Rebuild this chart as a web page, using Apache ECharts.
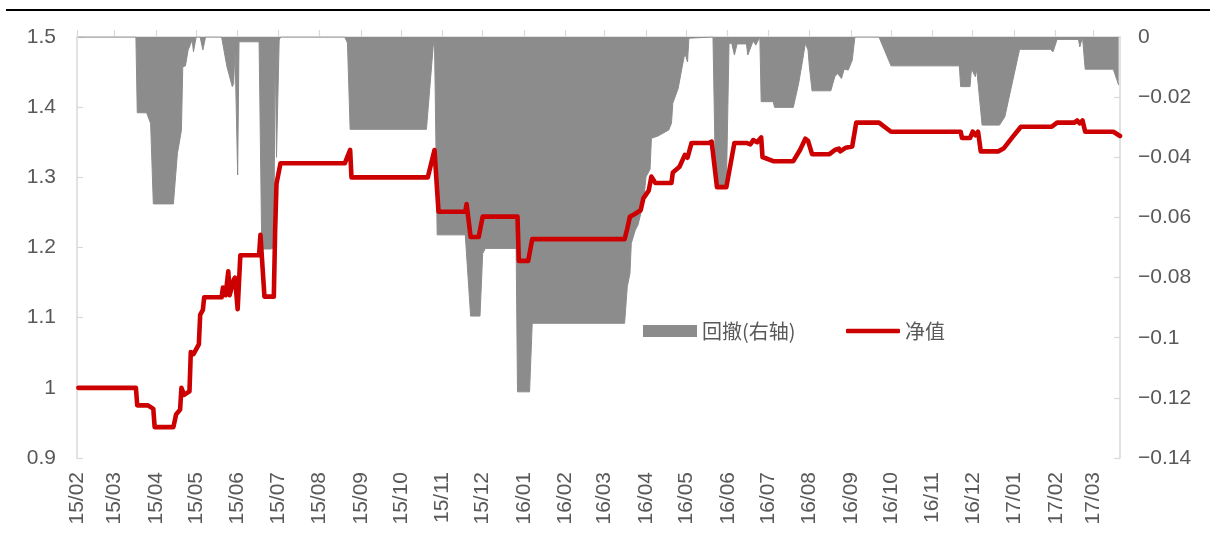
<!DOCTYPE html>
<html>
<head>
<meta charset="utf-8">
<script src="https://cdn.jsdelivr.net/npm/echarts@6/dist/echarts.min.js"></script>
<style>
  html, body { margin: 0; padding: 0; background: #fff; }
  #chart { width: 1210px; height: 536px; }
</style>
</head>
<body>
<div id="chart"></div>
<script>
// Net value (left axis) — dates and values at each turning point
const navDates = [
  '2015-02-02','2015-03-17','2015-03-18','2015-03-26','2015-03-30','2015-03-31','2015-04-14','2015-04-16',
  '2015-04-19','2015-04-20','2015-04-22','2015-04-26','2015-04-27','2015-04-29','2015-05-03','2015-05-04',
  '2015-05-06','2015-05-07','2015-05-20','2015-05-21','2015-05-23','2015-05-25','2015-05-26','2015-05-29',
  '2015-05-30','2015-06-01','2015-06-03','2015-06-17','2015-06-18','2015-06-21','2015-06-28','2015-06-29',
  '2015-06-30','2015-07-03','2015-08-20','2015-08-24','2015-08-25','2015-10-21','2015-10-26','2015-10-29',
  '2015-11-18','2015-11-19','2015-11-22','2015-11-28','2015-12-01','2015-12-27','2015-12-28','2016-01-04',
  '2016-01-07','2016-03-16','2016-03-18','2016-03-20','2016-03-23','2016-03-28','2016-03-30','2016-04-03',
  '2016-04-05','2016-04-08','2016-04-20','2016-04-21','2016-04-26','2016-04-30','2016-05-02','2016-05-05',
  '2016-05-18','2016-05-20','2016-05-24','2016-05-31','2016-06-06','2016-06-15','2016-06-18','2016-06-20',
  '2016-06-23','2016-06-26','2016-06-27','2016-07-05','2016-07-20','2016-07-25','2016-07-29','2016-07-31',
  '2016-08-03','2016-08-16','2016-08-20','2016-08-23','2016-08-24','2016-08-28','2016-09-02','2016-09-05',
  '2016-09-22','2016-10-01','2016-11-22','2016-11-23','2016-11-29','2016-12-01','2016-12-03','2016-12-05',
  '2016-12-07','2016-12-20','2016-12-24','2016-12-31','2017-01-06','2017-01-29','2017-02-02','2017-02-15',
  '2017-02-17','2017-02-19','2017-02-21','2017-02-23','2017-03-16','2017-03-21'
];
const navValues = [
  1.000,1.000,0.975,0.975,0.970,0.944,0.944,0.962,
  0.969,1.000,0.990,0.995,1.051,1.048,1.062,1.104,
  1.111,1.129,1.129,1.143,1.132,1.166,1.132,1.154,
  1.157,1.112,1.189,1.189,1.218,1.130,1.130,1.225,
  1.291,1.320,1.320,1.339,1.300,1.300,1.339,1.251,
  1.251,1.262,1.215,1.215,1.244,1.244,1.181,1.181,
  1.212,1.212,1.227,1.244,1.247,1.253,1.270,1.281,
  1.301,1.292,1.292,1.307,1.315,1.332,1.328,1.349,
  1.349,1.351,1.286,1.286,1.349,1.349,1.347,1.353,
  1.350,1.357,1.329,1.323,1.323,1.339,1.355,1.352,
  1.333,1.333,1.339,1.341,1.337,1.342,1.344,1.378,
  1.378,1.365,1.365,1.356,1.356,1.365,1.360,1.365,
  1.337,1.337,1.341,1.358,1.372,1.372,1.378,1.378,
  1.381,1.377,1.381,1.365,1.365,1.359
];

// Drawdown (right axis)
const ddDates = [
  '2015-02-02','2015-03-17','2015-03-18','2015-03-25','2015-03-28','2015-03-30','2015-04-14','2015-04-15',
  '2015-04-17','2015-04-20','2015-04-21','2015-04-23','2015-04-25','2015-04-28','2015-04-29','2015-05-01',
  '2015-05-04','2015-05-06','2015-05-08','2015-05-20','2015-05-24','2015-05-28','2015-05-29','2015-05-30',
  '2015-06-01','2015-06-02','2015-06-17','2015-06-19','2015-06-26','2015-06-28','2015-06-29','2015-06-30',
  '2015-07-02','2015-07-03','2015-08-20','2015-08-22','2015-08-24','2015-10-20','2015-10-25','2015-10-26',
  '2015-10-28','2015-11-18','2015-11-22','2015-11-29','2015-12-01','2015-12-03','2015-12-26','2015-12-27',
  '2016-01-05','2016-01-07','2016-03-16','2016-03-18','2016-03-20','2016-03-21','2016-03-24','2016-03-26',
  '2016-03-30','2016-04-01','2016-04-04','2016-04-05','2016-04-10','2016-04-18','2016-04-20','2016-04-21',
  '2016-04-25','2016-04-28','2016-04-30','2016-05-02','2016-05-03','2016-05-04','2016-05-21','2016-05-23',
  '2016-05-31','2016-06-02','2016-06-04','2016-06-06','2016-06-08','2016-06-15','2016-06-16','2016-06-20',
  '2016-06-22','2016-06-25','2016-06-26','2016-07-05','2016-07-06','2016-07-20','2016-07-24','2016-07-27',
  '2016-07-29','2016-07-31','2016-08-01','2016-08-03','2016-08-17','2016-08-20','2016-08-22','2016-08-25',
  '2016-08-27','2016-08-30','2016-09-02','2016-09-04','2016-09-22','2016-10-01','2016-11-21','2016-11-22',
  '2016-11-29','2016-11-30','2016-12-03','2016-12-04','2016-12-08','2016-12-21','2016-12-25','2016-12-31',
  '2017-01-05','2017-01-28','2017-01-30','2017-02-02','2017-02-18','2017-02-19','2017-02-21','2017-02-23',
  '2017-03-16','2017-03-20'
];
const ddValues = [
  0,0,-0.0252,-0.0252,-0.0288,-0.0555,-0.0555,-0.0557,
  -0.0387,-0.0310,-0.0099,-0.0096,-0.0043,-0.0010,-0.0049,0,
  0,-0.0043,0,0,-0.0099,-0.0165,-0.0155,-0.0043,
  -0.0459,-0.0016,-0.0016,-0.0705,-0.0705,-0.0700,-0.0020,-0.0400,
  -0.0010,0,0,-0.0020,-0.0307,-0.0307,-0.0033,-0.0009,
  -0.0658,-0.0658,-0.0928,-0.0928,-0.0720,-0.0703,-0.0703,-0.1180,
  -0.1180,-0.0952,-0.0952,-0.0830,-0.0786,-0.0686,-0.0642,-0.0625,
  -0.0553,-0.0465,-0.0440,-0.0337,-0.0329,-0.0309,-0.0287,-0.0220,
  -0.0171,-0.0099,-0.0054,-0.0083,-0.0004,0,0,-0.0498,
  -0.0498,-0.0021,-0.0021,-0.0060,-0.0023,-0.0023,-0.0060,-0.0013,
  -0.0027,0,-0.0215,-0.0215,-0.0234,-0.0234,-0.0154,-0.0076,
  -0.0021,-0.0043,-0.0099,-0.0179,-0.0179,-0.0132,-0.0121,-0.0138,
  -0.0107,-0.0110,-0.0077,0,0,-0.0096,-0.0096,-0.0165,
  -0.0165,-0.0107,-0.0132,-0.0107,-0.0293,-0.0293,-0.0265,-0.0143,
  -0.0041,-0.0041,-0.0049,-0.0008,-0.0008,-0.0033,0,-0.0107,
  -0.0107,-0.0160
];

// Axis settings
const xStart = '2015-02-01';
const xEnd = '2017-03-21';
const leftAxis = { min: 0.9, max: 1.5, step: 0.1 };
const rightAxis = { min: -0.14, max: 0, step: 0.02 };
const seriesNames = ['回撤(右轴)', '净值'];

const DAY = 24 * 3600 * 1000;
const toTime = s => new Date(s + 'T00:00:00').getTime();
const zip = (xs, ys) => xs.map((d, i) => [toTime(d), ys[i]]);

const AXIS_GREY = '#d9d9d9';
const TEXT_GREY = '#595959';
const AREA_GREY = '#8c8c8c';
const NAV_RED = '#cc0000';
const NUM_FONT = "'Liberation Sans', 'Noto Sans CJK SC', sans-serif";
const CJK_FONT = "'Noto Sans CJK SC', sans-serif";

const chart = echarts.init(document.getElementById('chart'), null, { renderer: 'canvas' });

const legendBase = {
  orient: 'horizontal',
  top: 321,
  padding: 0,
  itemWidth: 54,
  itemStyle: { borderWidth: 0 },
  textStyle: { fontSize: 20, color: TEXT_GREY, fontFamily: CJK_FONT },
  selectedMode: false
};

chart.setOption({
  animation: false,
  backgroundColor: '#fff',
  grid: { left: 77, right: 90, top: 37, bottom: 78, containLabel: false },
  graphic: [{
    type: 'line',
    shape: { x1: 6, y1: 10, x2: 1210, y2: 10 },
    style: { stroke: '#000', lineWidth: 2.2 },
    silent: true
  }],
  legend: [
    Object.assign({}, legendBase, {
      left: 643, itemHeight: 12,
      data: [{ name: seriesNames[0], icon: 'rect' }]
    }),
    Object.assign({}, legendBase, {
      left: 846, itemHeight: 4.5,
      data: [{ name: seriesNames[1], icon: 'roundRect' }]
    })
  ],
  xAxis: {
    type: 'time',
    min: toTime(xStart),
    max: toTime(xEnd),
    splitNumber: 26,
    minInterval: 28 * DAY,
    maxInterval: 31 * DAY,
    axisLine: { show: true, lineStyle: { color: AXIS_GREY, width: 1.5 } },
    axisTick: { show: true, inside: true, length: 7, lineStyle: { color: AXIS_GREY, width: 1.2 } },
    axisLabel: {
      rotate: 90,
      interval: 0,
      margin: 14,
      formatter: '{yy}/{MM}',
      fontSize: 21,
      color: TEXT_GREY,
      fontFamily: NUM_FONT,
      showMaxLabel: false,
      hideOverlap: false
    },
    splitLine: { show: false }
  },
  yAxis: [{
    type: 'value',
    position: 'left',
    min: leftAxis.min,
    max: leftAxis.max,
    interval: leftAxis.step,
    axisLine: { show: true, lineStyle: { color: AXIS_GREY, width: 1.5 } },
    axisTick: { show: true, inside: true, length: 6, lineStyle: { color: AXIS_GREY, width: 1.2 } },
    axisLabel: { margin: 21, fontSize: 21, color: TEXT_GREY, fontFamily: NUM_FONT },
    splitLine: { show: false }
  }, {
    type: 'value',
    position: 'right',
    min: rightAxis.min,
    max: rightAxis.max,
    interval: rightAxis.step,
    axisLine: { show: true, lineStyle: { color: AXIS_GREY, width: 1.5 } },
    axisTick: { show: true, inside: true, length: 6, lineStyle: { color: AXIS_GREY, width: 1.2 } },
    axisLabel: {
      margin: 18, fontSize: 21, color: TEXT_GREY, fontFamily: NUM_FONT,
      formatter: v => String(+v.toFixed(2)).replace('-', '\u2212')
    },
    splitLine: { show: false }
  }],
  series: [{
    name: seriesNames[0],
    type: 'line',
    yAxisIndex: 1,
    data: zip(ddDates, ddValues),
    color: AREA_GREY,
    symbol: 'none',
    showSymbol: false,
    lineStyle: { color: AREA_GREY, width: 1 },
    areaStyle: { color: AREA_GREY, opacity: 1 },
    z: 1
  }, {
    name: seriesNames[1],
    type: 'line',
    yAxisIndex: 0,
    data: zip(navDates, navValues),
    color: NAV_RED,
    symbol: 'none',
    showSymbol: false,
    lineStyle: { color: NAV_RED, width: 4.6, join: 'round', cap: 'round' },
    z: 3
  }]
});
</script>
</body>
</html>
